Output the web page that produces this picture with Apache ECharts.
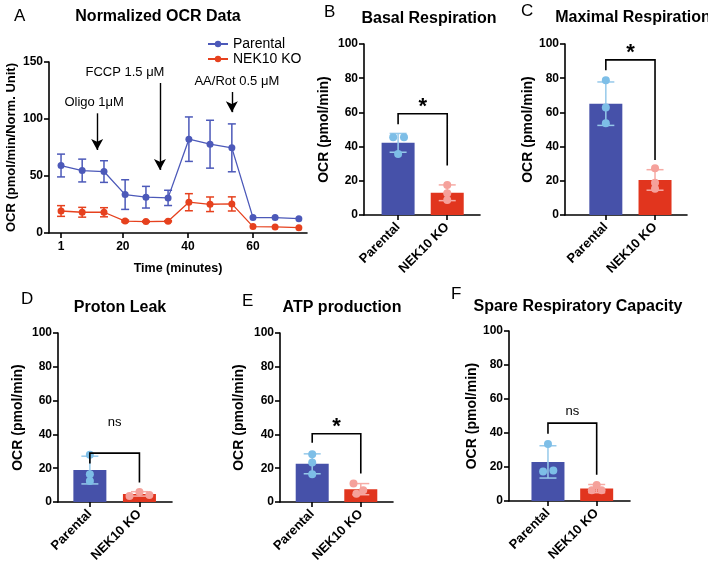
<!DOCTYPE html>
<html><head><meta charset="utf-8">
<script src="https://cdn.jsdelivr.net/npm/echarts@6/dist/echarts.min.js"></script>
<style>html,body{margin:0;padding:0;background:#fff}#c{width:708px;height:567px}</style>
</head><body><div id="c"></div>
<script>
// ---------- Panel A data ----------
const timePoints   = [1, 7.5, 14.2, 20.7, 27.1, 33.9, 40.3, 46.8, 53.5, 60, 66.8, 74.1];
const parentalMean = [59.2, 54.8, 53.9, 33.7, 31.4, 30.8, 82.3, 77.9, 74.7, 13.5, 13.5, 12.6];
const parentalErr  = [10, 10, 9.5, 13, 9.5, 6.7, 19.5, 21, 21, 0, 0, 0];
const nekMean      = [19.3, 18.2, 18.2, 10.5, 10.0, 10.3, 27.0, 25.2, 25.5, 5.6, 5.3, 4.7];
const nekErr       = [4.7, 4.3, 4.0, 0.8, 0.5, 0.5, 7.5, 6.4, 6.2, 0, 0, 0];
const timeTicks    = [1, 20, 40, 60];
const injLabels    = ['Oligo 1μM', 'FCCP 1.5 μM', 'AA/Rot 0.5 μM'];
const injTimes     = [12.1, 31.4, 53.5];
const injArrowTop  = [105, 131.6, 123.7];
const injArrowEnd  = [72.8, 55.3, 106];

// ---------- Bar panels data ----------
const groups = ['Parental', 'NEK10 KO'];
const basalMean = [42.2, 13.0], basalSD = [5.5, 4.6];
const basalParental = [45.5, 45.5, 35.6], basalNek = [17.6, 12.7, 8.8];
const basalParentalJit = [-0.1, 0.12, 0], basalNekJit = [0, 0, 0];
const basalBracket = [59.2, 53.1, 28.9], basalSig = '*';

const maxMean = [65.1, 20.5], maxSD = [12.7, 6.0];
const maxParental = [78.8, 62.9, 53.7], maxNek = [27.3, 18.9, 15.4];
const maxParentalJit = [0, 0, 0], maxNekJit = [0, 0, 0];
const maxBracket = [90.7, 84.6, 32.1], maxSig = '*';

const leakMean = [18.9, 4.8], leakSD = [8.2, 1.3];
const leakParental = [28.0, 16.4, 12.4], leakNek = [3.5, 5.9, 4.1];
const leakParentalJit = [0, 0, 0], leakNekJit = [-0.2, 0, 0.2];
const leakBracket = [28.9, 22.8, 11.6], leakSig = 'ns';

const atpMean = [22.6, 7.6], atpSD = [5.9, 3.3];
const atpParental = [28.2, 23.3, 16.4], atpNek = [10.9, 4.9, 7.0];
const atpParentalJit = [0, 0, 0], atpNekJit = [-0.15, -0.09, 0.05];
const atpBracket = [40.4, 35.1, 16.9], atpSig = '*';

const spareMean = [23.0, 7.3], spareSD = [9.5, 2.4];
const spareParental = [33.6, 17.4, 18.0], spareNek = [9.4, 6.3, 6.3];
const spareParentalJit = [0, -0.1, 0.11], spareNekJit = [0, -0.1, 0.1];
const spareBracket = [45.8, 39.5, 15.4], spareSig = 'ns';

// ---------- styles ----------
const FONT = 'Liberation Sans, Arial, Helvetica, sans-serif';
const BLUE_LINE = '#4C59B9', RED_LINE = '#E6411E';
const BAR_COL = ['#4651A9', '#E1351E'];
const DOT_COL = ['#7DBEE7', '#F5A19B'];
const ERR_COL = ['#96C9EA', '#F6ABA5'];
const injLabelShift = [-3, -35, 5];

const chart = echarts.init(document.getElementById('c'), null, {renderer: 'canvas'});

const grids = [
  {left: 49, top: 62, width: 258, height: 171},
  {left: 364, top: 44, width: 116, height: 171},
  {left: 565, top: 44, width: 122, height: 171},
  {left: 58, top: 333, width: 114, height: 169},
  {left: 280, top: 333, width: 113, height: 169},
  {left: 509, top: 331, width: 121, height: 170}
];

const axisLineX = {show: true, onZero: false, lineStyle: {color: '#000', width: 1.6}};
const axisLineY = {show: true, onZero: false, lineStyle: {color: '#000', width: 1.6}};
const axisTick = {show: true, length: 5, lineStyle: {color: '#000', width: 1.6}};
const tickLabel = {color: '#000', fontFamily: FONT, fontWeight: 'bold', fontSize: 12};

const xAxes = [{
  type: 'value', gridIndex: 0, min: -2.7, max: 76.6,
  axisLine: axisLineX, axisTick: Object.assign({customValues: timeTicks}, axisTick),
  axisLabel: Object.assign({customValues: timeTicks, margin: 8}, tickLabel),
  splitLine: {show: false},
  name: 'Time (minutes)', nameLocation: 'middle', nameGap: 29,
  nameTextStyle: {color: '#000', fontFamily: FONT, fontWeight: 'bold', fontSize: 12.5}
}];
const yAxes = [{
  type: 'value', gridIndex: 0, min: 0, max: 150, interval: 50,
  axisLine: axisLineY, axisTick, axisLabel: Object.assign({margin: 6}, tickLabel),
  splitLine: {show: false},
  name: 'OCR (pmol/min/Norm. Unit)', nameLocation: 'middle', nameGap: 31,
  nameTextStyle: {color: '#000', fontFamily: FONT, fontWeight: 'bold', fontSize: 13}
}];

const panels = [
  {title: 'Basal Respiration', letter: 'B', mean: basalMean, sd: basalSD, pts: [basalParental, basalNek], jit: [basalParentalJit, basalNekJit], bracket: basalBracket, sig: basalSig, xr: [-0.694, 1.667], nameGap: 33, titleX: 424, titleY: 6, letterX: 319, letterY: -1, sigGap: 7},
  {title: 'Maximal Respiration', letter: 'C', mean: maxMean, sd: maxSD, pts: [maxParental, maxNek], jit: [maxParentalJit, maxNekJit], bracket: maxBracket, sig: maxSig, xr: [-0.83, 1.65], nameGap: 27, titleX: 628, titleY: 5, letterX: 516, letterY: -2, sigGap: 7},
  {title: 'Proton Leak', letter: 'D', mean: leakMean, sd: leakSD, pts: [leakParental, leakNek], jit: [leakParentalJit, leakNekJit], bracket: leakBracket, sig: leakSig, xr: [-0.643, 1.657], nameGap: 33, titleX: 115, titleY: 295, letterX: 16, letterY: 286, sigGap: 31},
  {title: 'ATP production', letter: 'E', mean: atpMean, sd: atpSD, pts: [atpParental, atpNek], jit: [atpParentalJit, atpNekJit], bracket: atpBracket, sig: atpSig, xr: [-0.663, 1.663], nameGap: 34, titleX: 337, titleY: 295, letterX: 237, letterY: 288, sigGap: 7},
  {title: 'Spare Respiratory Capacity', letter: 'F', mean: spareMean, sd: spareSD, pts: [spareParental, spareNek], jit: [spareParentalJit, spareNekJit], bracket: spareBracket, sig: spareSig, xr: [-0.8, 1.684], nameGap: 29, titleX: 573, titleY: 294, letterX: 446, letterY: 281, sigGap: 12}
];

const titles = [
  {text: 'A', left: 9, top: 3, textStyle: {fontFamily: FONT, fontWeight: 'normal', fontSize: 17, color: '#000'}},
  {text: 'Normalized OCR Data', left: 153, top: 4, textAlign: 'center', textStyle: {fontFamily: FONT, fontWeight: 'bold', fontSize: 16, color: '#000'}}
];

const series = [];

function errRender(hw, colorFn) {
  return function (params, api) {
    const x = api.value(0), m = api.value(1), e = api.value(2), gi = api.value(3);
    if (!e) return null;
    const t = api.coord([x, m + e]), b = api.coord([x, m - e]);
    const st = {stroke: colorFn(gi), lineWidth: 1.5};
    return {type: 'group', children: [
      {type: 'line', shape: {x1: t[0], y1: t[1], x2: b[0], y2: b[1]}, style: st},
      {type: 'line', shape: {x1: t[0] - hw, y1: t[1], x2: t[0] + hw, y2: t[1]}, style: st},
      {type: 'line', shape: {x1: b[0] - hw, y1: b[1], x2: b[0] + hw, y2: b[1]}, style: st}
    ]};
  };
}

// Panel A series
series.push({
  type: 'custom', xAxisIndex: 0, yAxisIndex: 0, z: 2, silent: true,
  renderItem: errRender(4, () => BLUE_LINE),
  data: timePoints.map((t, i) => [t, parentalMean[i], parentalErr[i], 0])
});
series.push({
  type: 'custom', xAxisIndex: 0, yAxisIndex: 0, z: 2, silent: true,
  renderItem: errRender(4, () => RED_LINE),
  data: timePoints.map((t, i) => [t, nekMean[i], nekErr[i], 1])
});
series.push({
  name: 'Parental', type: 'line', xAxisIndex: 0, yAxisIndex: 0, z: 3,
  data: timePoints.map((t, i) => [t, parentalMean[i]]),
  symbol: 'circle', symbolSize: 7, color: BLUE_LINE,
  lineStyle: {width: 1.3, color: BLUE_LINE}, itemStyle: {color: BLUE_LINE}
});
series.push({
  name: 'NEK10 KO', type: 'line', xAxisIndex: 0, yAxisIndex: 0, z: 3,
  data: timePoints.map((t, i) => [t, nekMean[i]]),
  symbol: 'circle', symbolSize: 7, color: RED_LINE,
  lineStyle: {width: 1.3, color: RED_LINE}, itemStyle: {color: RED_LINE}
});
series.push({
  type: 'scatter', xAxisIndex: 0, yAxisIndex: 0, data: [], silent: true,
  markLine: {
    silent: true, symbol: ['none', 'arrow'], symbolSize: [9, 11],
    lineStyle: {color: '#000', width: 1.4, type: 'solid'},
    label: {show: true, position: 'start', distance: 4, color: '#000', fontFamily: FONT, fontSize: 13, formatter: p => p.name},
    data: injTimes.map((t, i) => [
      {name: injLabels[i], coord: [t, injArrowTop[i]], label: {offset: [injLabelShift[i], 0]}},
      {coord: [t, injArrowEnd[i]]}
    ])
  }
});

panels.forEach((p, k) => {
  const gi = k + 1;
  titles.push({text: p.title, left: p.titleX, top: p.titleY, textAlign: 'center', textStyle: {fontFamily: FONT, fontWeight: 'bold', fontSize: 16, color: '#000'}});
  titles.push({text: p.letter, left: p.letterX, top: p.letterY, textStyle: {fontFamily: FONT, fontWeight: 'normal', fontSize: 17, color: '#000'}});
  xAxes.push({
    type: 'value', gridIndex: gi, min: p.xr[0], max: p.xr[1],
    axisLine: axisLineX, axisTick: Object.assign({customValues: [0, 1]}, axisTick),
    axisLabel: Object.assign({}, tickLabel, {customValues: [0, 1], rotate: 45, margin: 10, fontSize: 13, formatter: v => groups[Math.round(v)]}),
    splitLine: {show: false}
  });
  yAxes.push({
    type: 'value', gridIndex: gi, min: 0, max: 100, interval: 20,
    axisLine: axisLineY, axisTick, axisLabel: Object.assign({margin: 6}, tickLabel),
    splitLine: {show: false},
    name: 'OCR (pmol/min)', nameLocation: 'middle', nameGap: p.nameGap,
    nameTextStyle: {color: '#000', fontFamily: FONT, fontWeight: 'bold', fontSize: 14}
  });
  series.push({
    type: 'bar', xAxisIndex: gi, yAxisIndex: gi, barWidth: 33, z: 2, silent: true,
    data: p.mean.map((m, j) => ({value: [j, m], itemStyle: {color: BAR_COL[j]}}))
  });
  series.push({
    type: 'custom', xAxisIndex: gi, yAxisIndex: gi, z: 3, silent: true,
    renderItem: errRender(8.5, g => ERR_COL[g]),
    data: p.mean.map((m, j) => [j, m, p.sd[j], j])
  });
  [0, 1].forEach(j => {
    series.push({
      type: 'scatter', xAxisIndex: gi, yAxisIndex: gi, z: 4, silent: true,
      symbol: 'circle', symbolSize: 8, itemStyle: {color: DOT_COL[j], opacity: 1},
      data: p.pts[j].map((v, i) => [j + p.jit[j][i], v])
    });
  });
  const b = p.bracket, sig = p.sig, gap = p.sigGap;
  series.push({
    type: 'custom', xAxisIndex: gi, yAxisIndex: gi, z: 5, silent: true,
    data: [[0.5, b[0]]],
    renderItem: function (params, api) {
      const p0 = api.coord([0, b[1]]), p1 = api.coord([0, b[0]]), p2 = api.coord([1, b[0]]), p3 = api.coord([1, b[2]]);
      const mid = api.coord([0.5, b[0]]);
      const isStar = sig === '*';
      return {type: 'group', children: [
        {type: 'polyline', shape: {points: [p0, p1, p2, p3]}, style: {stroke: '#000', lineWidth: 1.6, fill: null}},
        {type: 'text', x: mid[0], y: mid[1] - gap, style: {text: sig, fill: '#000', align: 'center', verticalAlign: 'middle',
          font: (isStar ? 'bold 22px ' : 'normal 13px ') + FONT}}
      ]};
    }
  });
});

chart.setOption({
  animation: false,
  backgroundColor: '#fff',
  title: titles,
  legend: {
    data: ['Parental', 'NEK10 KO'], orient: 'vertical', left: 202, top: 32,
    itemWidth: 20, itemHeight: 8, itemGap: 1,
    textStyle: {fontFamily: FONT, fontSize: 14, color: '#000', lineHeight: 14}
  },
  grid: grids,
  xAxis: xAxes,
  yAxis: yAxes,
  series
});
</script>
</body></html>
